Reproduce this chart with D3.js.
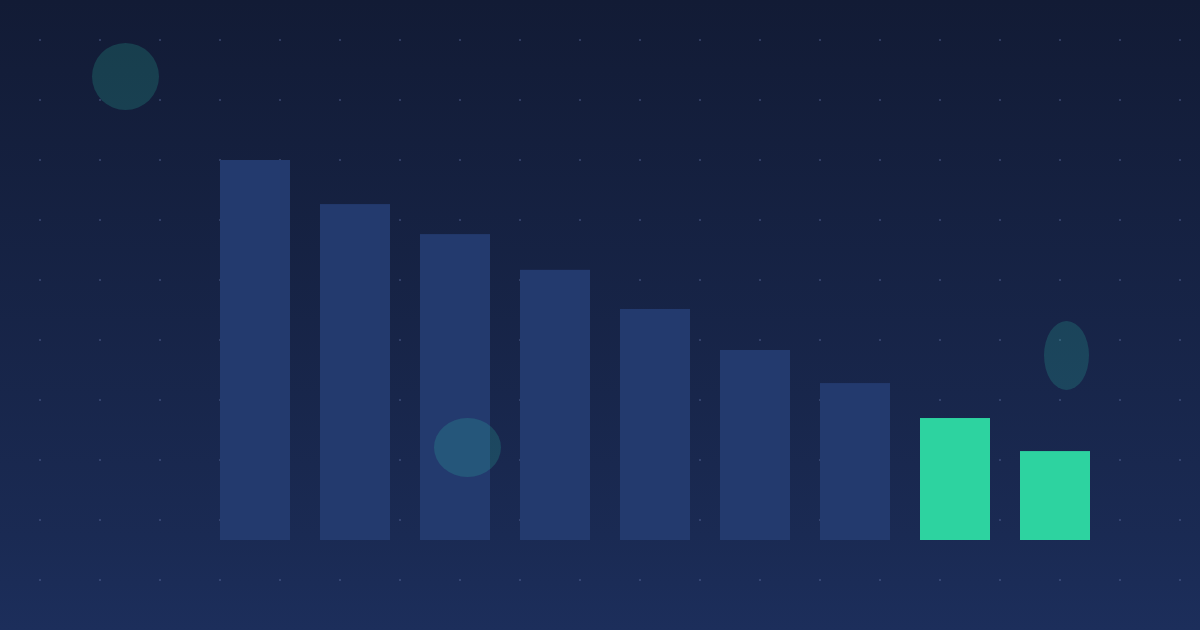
<!DOCTYPE html>
<html>
<head>
<meta charset="utf-8">
<script src="https://cdn.jsdelivr.net/npm/d3@7"></script>
<style>
  html, body { margin: 0; padding: 0; background: #141e3a; }
  svg { display: block; }
</style>
</head>
<body>
<svg></svg>
<script>
// chart data
let categories = ["1", "2", "3", "4", "5", "6", "7", "8", "9"];
let values = [100, 88.4, 80.5, 71.1, 60.8, 50, 41.3, 32.1, 23.4];
let highlighted = ["8", "9"];

// decorative blobs [cx, cy, rx, ry]
let blobs = [[125.5, 76.5, 33.5, 33.5], [467.5, 447.5, 33.5, 29.5], [1066.5, 355.5, 22.5, 34.5]];

function drawChart() {
    let width = 1200;
    let height = 630;

    let svg = d3.select("svg")
        .attr("width", width)
        .attr("height", height);

    let defs = svg.append("defs");
    let grad = defs.append("linearGradient")
        .attr("id", "bg")
        .attr("x1", 0).attr("y1", 0)
        .attr("x2", 0).attr("y2", 1);
    grad.append("stop").attr("offset", "0%").attr("stop-color", "#121b35");
    grad.append("stop").attr("offset", "85%").attr("stop-color", "#1a2a53");
    grad.append("stop").attr("offset", "100%").attr("stop-color", "#1c2e5b");

    svg.append("rect")
        .attr("width", width)
        .attr("height", height)
        .attr("fill", "url(#bg)");

    // dot grid
    let gx = d3.range(40, width, 60);
    let gy = d3.range(40, height, 60);
    let dots = [];
    gy.forEach(y => gx.forEach(x => dots.push([x, y])));
    svg.append("g").selectAll("circle")
        .data(dots)
        .join("circle")
        .attr("cx", d => d[0])
        .attr("cy", d => d[1])
        .attr("r", 1)
        .attr("fill", "#6a7bb0")
        .attr("opacity", 0.45);

    let x = d3.scaleBand()
        .domain(categories)
        .range([205, 1105])
        .paddingInner(0.3)
        .paddingOuter(0.15);

    let y = d3.scaleLinear()
        .domain([0, 100])
        .range([540, 160]);

    svg.append("g").selectAll("rect")
        .data(categories)
        .join("rect")
        .attr("x", d => x(d))
        .attr("y", (d, i) => y(values[i]))
        .attr("width", x.bandwidth())
        .attr("height", (d, i) => y(0) - y(values[i]))
        .attr("fill", d => highlighted.includes(d) ? "#2dd3a0" : "#233a6e");

    svg.append("g").selectAll("ellipse")
        .data(blobs)
        .join("ellipse")
        .attr("cx", d => d[0])
        .attr("cy", d => d[1])
        .attr("rx", d => d[2])
        .attr("ry", d => d[3])
        .attr("fill", "#2cc9a8")
        .attr("opacity", 0.2);
}
drawChart();
</script>
</body>
</html>
